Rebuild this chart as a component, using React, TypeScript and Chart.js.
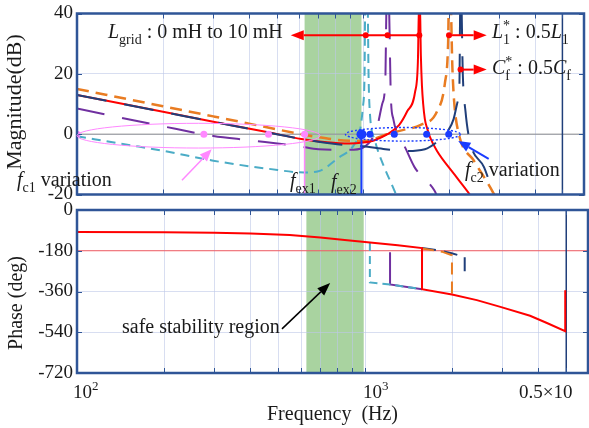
import React, { useEffect, useRef } from "react";
import { Chart, registerables } from "chart.js";
Chart.register(...registerables);

const SERIF = "'Liberation Serif', 'Times New Roman', Times, serif";
const FRAME = "#2F5597";
const NAVY = "#203F7A";
const RED = "#FF0000";
const ORANGE = "#E97C22";
const PURPLE = "#7030A0";
const CYAN = "#4BACC6";
const GREEN = "#A9D3A0";
const PINK = "#FF88FF";
const BLUE = "#1A3CFF";
const TEXT = "#1a1a1a";

const F_MIN = 100;
const F_MAX = 5950;
const F_EX1 = 626;
const F_EX2 = 990;
const F_NYQ = 5000;
const MINOR_TICKS = [200, 300, 400, 500, 600, 700, 800, 900, 1000, 2000, 3000, 4000, 5000];

// ---- Magnitude (dB) ----
const redMagF = [100, 200, 300, 467, 610, 750, 900, 1000, 1100, 1220, 1340, 1430, 1525, 1560, 1576, 1584, 1598, 1612, 1628, 1650, 1680, 1720, 1820, 2080, 2370, 2450];
const redMagDb = [13, 7.4, 4.1, 0.6, -1.6, -2.7, -3.1, -2.8, -2, 0, 3, 7.5, 14, 24, 45, 45, 26, 16, 10, 5, 2, -1, -5.6, -13, -20, -22];

const navyMagF = [100, 200, 300, 400, 500, 610, 700, 850, 1000, 1200, 1400, 1650, 1850, 2000, 2080, 2150, 2180, 2196, 2212, 2240, 2290, 2370, 2660, 2870, 2950];
const navyMagDb = [13, 7.4, 4.1, 1.8, 0, -1.6, -2.5, -3.5, -4, -5, -5.6, -5, -2, 1.5, 5, 10.8, 16, 45, 45, 20, 7.5, -2.3, -11, -19.6, -22];

const orangeMagF = [100, 200, 300, 400, 500, 610, 700, 800, 900, 990, 1100, 1220, 1400, 1590, 1820, 1940, 1990, 2004, 2028, 2060, 2090, 2170, 2450, 2870, 2950];
const orangeMagDb = [15, 9.25, 5.9, 3.5, 1.6, 0, -1, -1.8, -2.2, -2.3, -1.5, 0, 1.5, 3, 7.5, 17, 30, 45, 45, 22, 10.7, 0, -8.8, -19.6, -22];

const purpleMagF = [100, 200, 300, 400, 600, 700, 900, 1000, 1120, 1170, 1200, 1213, 1232, 1255, 1280, 1340, 1400, 1520, 1780, 1830];
const purpleMagDb = [8.5, 2.6, -0.6, -2, -4, -5, -5.2, -4.5, 2, 10, 18, 45, 45, 12, 5, -1, -4, -11, -18.6, -21];

const cyanMagF = [100, 150, 200, 300, 470, 626, 700, 818, 936, 977, 1000, 1015, 1021, 1040, 1048, 1058, 1105, 1190, 1290, 1320];
const cyanMagDb = [-0.7, -3.5, -5.5, -8.8, -11.5, -12.7, -12.3, -8, -3.3, 1, 8.5, 20, 45, 45, 20, 8, -2.3, -11, -18.6, -21];

const pinkDotF = [100, 278, 468, 626];
const blueDotF = [990, 1060, 1290, 1674, 2000];
const blueDotR = [5, 3.5, 3.5, 3.5, 3.5];

// ---- Phase (deg) ----
const redPhF = [100, 200, 300, 400, 548, 700, 850, 1000, 1300, 1578, 1578, 2005, 2446, 2953, 3744, 4265, 4960, 4960];
const redPhDeg = [-97, -98, -100, -104, -110, -122, -132, -141, -156, -168, -350, -373, -398, -428, -467, -498, -535, -355];

const cyanPhF = [1040, 1040, 1222, 1578];
const cyanPhDeg = [-146, -320, -329, -350];
const purplePhF = [1222, 1222, 1578];
const purplePhDeg = [-187, -329, -350];
const orangePhF = [1578, 1850, 2005, 2005];
const orangePhDeg = [-170, -184, -200, -372];
const navyPhF = [1578, 1800, 2000, 2220, 2220];
const navyPhDeg = [-168, -178, -191, -208, -297];

type Part = { t: string; it?: boolean; sub?: boolean; sup?: boolean; stack?: boolean };

function pts(fs: number[], vs: number[]) {
  return fs.map((f, i) => ({ x: f, y: vs[i] }));
}
function flat(fs: number[], v: number) {
  return fs.map((f) => ({ x: f, y: v }));
}

function drawRich(ctx: any, x: number, y: number, parts: Part[], size: number, color = TEXT) {
  ctx.fillStyle = color;
  ctx.textAlign = "left";
  ctx.textBaseline = "alphabetic";
  let cx = x;
  let prevStart = x;
  let prevW = 0;
  for (const p of parts) {
    const small = p.sub || p.sup;
    const s = small ? Math.round(size * 0.68) : size;
    ctx.font = `${p.it ? "italic " : ""}${s}px ${SERIF}`;
    const w = ctx.measureText(p.t).width;
    const dy = p.sub ? size * 0.3 : p.sup ? -size * 0.42 : 0;
    const sx = p.stack ? prevStart : cx;
    ctx.fillText(p.t, sx, y + dy);
    if (p.stack) {
      cx = prevStart + Math.max(prevW, w);
    } else {
      prevStart = sx;
      prevW = w;
      cx = sx + w;
    }
  }
}

function arrow(ctx: any, x1: number, y1: number, x2: number, y2: number, color: string, lw: number, head: number, hw: number) {
  const ang = Math.atan2(y2 - y1, x2 - x1);
  const bx = x2 - Math.cos(ang) * head;
  const by = y2 - Math.sin(ang) * head;
  ctx.save();
  ctx.strokeStyle = color;
  ctx.fillStyle = color;
  ctx.lineWidth = lw;
  ctx.setLineDash([]);
  ctx.beginPath();
  ctx.moveTo(x1, y1);
  ctx.lineTo(bx, by);
  ctx.stroke();
  ctx.beginPath();
  ctx.moveTo(x2, y2);
  ctx.lineTo(bx + Math.sin(ang) * hw, by - Math.cos(ang) * hw);
  ctx.lineTo(bx - Math.sin(ang) * hw, by + Math.cos(ang) * hw);
  ctx.closePath();
  ctx.fill();
  ctx.restore();
}

function dot(ctx: any, x: number, y: number, r: number, color: string) {
  ctx.fillStyle = color;
  ctx.beginPath();
  ctx.arc(x, y, r, 0, Math.PI * 2);
  ctx.fill();
}

function logEllipse(ctx: any, chart: any, f1: number, f2: number, v1: number, v2: number) {
  const X = chart.scales.x;
  const Y = chart.scales.y;
  const xa = X.getPixelForValue(f1);
  const xb = X.getPixelForValue(f2);
  const ya = Y.getPixelForValue(v1);
  const yb = Y.getPixelForValue(v2);
  ctx.beginPath();
  ctx.ellipse((xa + xb) / 2, (ya + yb) / 2, Math.abs(xb - xa) / 2, Math.abs(yb - ya) / 2, 0, 0, Math.PI * 2);
  ctx.stroke();
}

function decorPlugin(kind: "mag" | "phase", offsetTop: number) {
  return {
    id: "decor-" + kind,
    beforeDraw(chart: any) {
      const { ctx, chartArea: a, scales } = chart;
      const X = scales.x;
      ctx.save();
      ctx.fillStyle = "#ffffff";
      ctx.fillRect(a.left, a.top, a.right - a.left, a.bottom - a.top);
      const x1 = X.getPixelForValue(F_EX1);
      const x2 = X.getPixelForValue(F_EX2);
      ctx.fillStyle = GREEN;
      ctx.fillRect(x1, a.top, x2 - x1, a.bottom - a.top);
      ctx.strokeStyle = "rgba(190,200,232,0.6)";
      ctx.lineWidth = 1;
      for (const f of MINOR_TICKS) {
        const px = Math.round(X.getPixelForValue(f)) + 0.5;
        ctx.beginPath();
        ctx.moveTo(px, a.top);
        ctx.lineTo(px, a.bottom);
        ctx.stroke();
      }
      ctx.restore();
    },
    afterDraw(chart: any) {
      const { ctx, chartArea: a, scales } = chart;
      const X = scales.x;
      const Y = scales.y;
      const px = (f: number) => X.getPixelForValue(f);
      const py = (v: number) => Y.getPixelForValue(v);
      ctx.save();
      // inward ticks
      ctx.strokeStyle = FRAME;
      ctx.lineWidth = 1;
      for (const f of MINOR_TICKS) {
        const x = Math.round(px(f)) + 0.5;
        ctx.beginPath();
        ctx.moveTo(x, a.top);
        ctx.lineTo(x, a.top + 5);
        ctx.moveTo(x, a.bottom);
        ctx.lineTo(x, a.bottom - 5);
        ctx.stroke();
      }
      for (const t of Y.ticks) {
        const y = Math.round(py(t.value)) + 0.5;
        ctx.beginPath();
        ctx.moveTo(a.left, y);
        ctx.lineTo(a.left + 5, y);
        ctx.moveTo(a.right, y);
        ctx.lineTo(a.right - 5, y);
        ctx.stroke();
      }
      // frame
      ctx.lineWidth = 2.5;
      ctx.strokeRect(a.left, a.top, a.right - a.left, a.bottom - a.top);

      if (kind === "mag") {
        // ellipses
        ctx.strokeStyle = PINK;
        ctx.lineWidth = 1;
        logEllipse(ctx, chart, 100, 709, 3.6, -4.6);
        ctx.strokeStyle = BLUE;
        ctx.lineWidth = 1.4;
        ctx.setLineDash([2, 2]);
        logEllipse(ctx, chart, 870, 2200, 2.2, -2.3);
        ctx.setLineDash([]);
        // red arrows (parameter variation)
        arrow(ctx, px(1578), py(32.8), px(560), py(32.8), RED, 2, 13, 5);
        for (const f of [1025, 1222, 1578]) dot(ctx, px(f), py(32.8), 3, RED);
        arrow(ctx, px(2005), py(32.8), px(2716), py(32.8), RED, 2, 13, 5);
        dot(ctx, px(2005), py(32.8), 3, RED);
        arrow(ctx, px(2200), py(21.4), px(2716), py(21.4), RED, 2, 13, 5);
        dot(ctx, px(2200), py(21.4), 3, RED);
        // variation arrows
        arrow(ctx, px(233), py(-15.3), px(296), py(-5), PINK, 1.5, 12, 5);
        arrow(ctx, px(2760), py(-8.2), px(2160), py(-2.3), BLUE, 2, 12, 5);

        ctx.translate(0, -offsetTop);
        ctx.save();
        ctx.translate(15, 102);
        ctx.rotate(-Math.PI / 2);
        ctx.fillStyle = TEXT;
        ctx.font = `22px ${SERIF}`;
        ctx.textAlign = "center";
        ctx.textBaseline = "middle";
        ctx.fillText("Magnitude(dB)", 0, 0);
        ctx.restore();
        drawRich(ctx, 108, 38, [{ t: "L", it: true }, { t: "grid", sub: true }, { t: " : 0 mH to 10 mH" }], 20);
        drawRich(ctx, 492, 38, [{ t: "L", it: true }, { t: "1", sub: true }, { t: "*", sup: true, stack: true }, { t: " : 0.5" }, { t: "L", it: true }, { t: "1", sub: true }], 20);
        drawRich(ctx, 492, 74, [{ t: "C", it: true }, { t: "f", sub: true }, { t: "*", sup: true, stack: true }, { t: " : 0.5" }, { t: "C", it: true }, { t: "f", sub: true }], 20);
        drawRich(ctx, 17, 186, [{ t: "f", it: true }, { t: "c1", sub: true }, { t: " variation" }], 20);
        drawRich(ctx, 465, 176, [{ t: "f", it: true }, { t: "c2", sub: true }, { t: " variation" }], 20);
        drawRich(ctx, 290, 187, [{ t: "f", it: true }, { t: "ex1", sub: true }], 20);
        drawRich(ctx, 331, 188, [{ t: "f", it: true }, { t: "ex2", sub: true }], 20);
      } else {
        arrow(ctx, px(515), py(-525), px(757), py(-322), "#000000", 1.5, 13, 5);
        ctx.translate(0, -offsetTop);
        ctx.save();
        ctx.translate(17, 303);
        ctx.rotate(-Math.PI / 2);
        ctx.fillStyle = TEXT;
        ctx.font = `20px ${SERIF}`;
        ctx.textAlign = "center";
        ctx.textBaseline = "middle";
        ctx.fillText("Phase (deg)", 0, 0);
        ctx.restore();
        drawRich(ctx, 122, 333, [{ t: "safe stability region" }], 20);
        drawRich(ctx, 73, 398, [{ t: "10" }, { t: "2", sup: true }], 19);
        drawRich(ctx, 363, 398, [{ t: "10" }, { t: "3", sup: true }], 19);
        drawRich(ctx, 519, 398, [{ t: "0.5×10" }], 19);
        ctx.fillStyle = TEXT;
        ctx.font = `20px ${SERIF}`;
        ctx.textAlign = "center";
        ctx.textBaseline = "alphabetic";
        ctx.fillText("Frequency  (Hz)", (a.left + a.right) / 2, 420);
      }
      ctx.restore();
    },
  };
}

function yScale(min: number, max: number, step: number) {
  return {
    type: "linear",
    min,
    max,
    ticks: { stepSize: step, padding: 4, color: TEXT, font: { family: SERIF, size: 19, lineHeight: 1 } },
    grid: { color: "rgba(190,200,232,0.6)", drawTicks: false },
    border: { display: false },
    afterFit: (s: any) => {
      s.width = 77;
    },
  };
}

function line(data: any[], color: string, width: number, dash: number[], order: number, extra: any = {}) {
  return {
    data,
    borderColor: color,
    backgroundColor: color,
    borderWidth: width,
    borderDash: dash,
    pointRadius: 0,
    fill: false,
    order,
    ...extra,
  };
}

const baseOptions = (padTop: number, padBottom: number) => ({
  animation: false,
  responsive: false,
  devicePixelRatio: 1,
  events: [],
  layout: { padding: { left: 0, right: 1, top: padTop, bottom: padBottom } },
  plugins: { legend: { display: false }, tooltip: { enabled: false } },
});

export default function App() {
  const magRef = useRef<HTMLCanvasElement>(null);
  const phRef = useRef<HTMLCanvasElement>(null);

  useEffect(() => {
    const mono = { cubicInterpolationMode: "monotone" };
    const magChart = new Chart(magRef.current as any, {
      type: "line",
      data: {
        datasets: [
          line(pts(blueDotF, flat(blueDotF, 0).map((p) => p.y)), BLUE, 0, [], 0, { showLine: false, pointRadius: blueDotR, pointBackgroundColor: BLUE, pointBorderWidth: 0 }),
          line(flat(pinkDotF, 0), PINK, 0, [], 0, { showLine: false, pointRadius: 3.5, pointBackgroundColor: PINK, pointBorderWidth: 0 }),
          line(pts([F_EX2, F_EX2], [0, -20]), BLUE, 2, [], 1),
          line(pts([F_EX1, F_EX1], [0, -20]), PINK, 1.5, [], 1),
          line(pts([F_NYQ, F_NYQ], [40, -20]), NAVY, 1.5, [], 2),
          line(pts(navyMagF, navyMagDb), NAVY, 2, [30, 18], 2, mono),
          line(pts(redMagF, redMagDb), RED, 2, [], 3, mono),
          line(pts(orangeMagF, orangeMagDb), ORANGE, 2.5, [12, 7], 4, mono),
          line(pts(purpleMagF, purpleMagDb), PURPLE, 2, [28, 18], 5, mono),
          line(pts(cyanMagF, cyanMagDb), CYAN, 2, [9, 6], 6, mono),
          line(flat([F_MIN, F_MAX], 0), "#8c8c8c", 1, [], 7),
        ],
      },
      options: {
        ...baseOptions(10, 15.5),
        scales: {
          x: { type: "logarithmic", min: F_MIN, max: F_MAX, display: false },
          y: yScale(-20, 40, 20),
        },
      } as any,
      plugins: [decorPlugin("mag", 0)],
    } as any);

    const phChart = new Chart(phRef.current as any, {
      type: "line",
      data: {
        datasets: [
          line(pts(redPhF, redPhDeg), RED, 2, [], 1),
          line(pts(cyanPhF, cyanPhDeg), CYAN, 2, [8, 5], 2),
          line(pts(purplePhF, purplePhDeg), PURPLE, 2, [], 3),
          line(pts(orangePhF, orangePhDeg), ORANGE, 2, [12, 7], 4),
          line(pts(navyPhF, navyPhDeg), NAVY, 2, [14, 8], 5),
          line(pts([F_NYQ, F_NYQ], [0, -720]), NAVY, 1.5, [], 6),
          line(flat([F_MIN, F_MAX], -180), "rgba(255,60,60,0.8)", 1, [], 7),
        ],
      },
      options: {
        ...baseOptions(15, 55),
        scales: {
          x: { type: "logarithmic", min: F_MIN, max: F_MAX, display: false },
          y: yScale(-720, 0, 180),
        },
      } as any,
      plugins: [decorPlugin("phase", 195)],
    } as any);

    return () => {
      magChart.destroy();
      phChart.destroy();
    };
  }, []);

  return (
    <div style={{ position: "fixed", left: 0, top: 0, width: 589, height: 428, background: "#fff", overflow: "hidden" }}>
      <canvas ref={magRef} width={589} height={210} style={{ position: "absolute", left: 0, top: 0 }} />
      <canvas ref={phRef} width={589} height={233} style={{ position: "absolute", left: 0, top: 195 }} />
    </div>
  );
}
